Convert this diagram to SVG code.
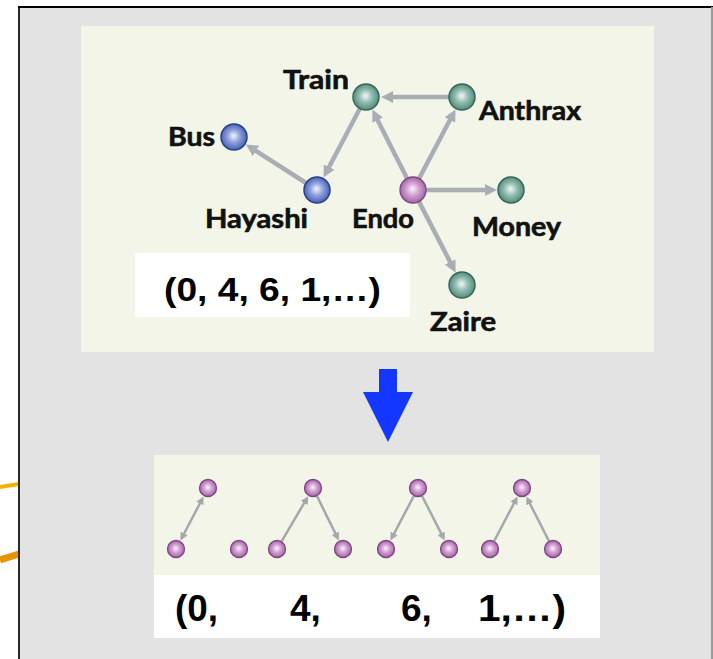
<svg xmlns="http://www.w3.org/2000/svg" width="713" height="659" viewBox="0 0 713 659">
  <style>
    .lbl { font-family: Lato, "Noto Sans", "Liberation Sans", sans-serif; font-weight: 700; font-size: 26px; fill: #111; stroke: #111; stroke-width: 0.6; }
    .seq { font-family: "Liberation Sans", Arial, sans-serif; font-weight: 700; fill: #000; }
    .edge { stroke: #a9aeb4; stroke-width: 4.5; fill: none; marker-end: url(#head); }
    .edge-s { stroke: #a4a8ad; stroke-width: 2.5; fill: none; marker-end: url(#headS); }
    .teal { fill: url(#gTeal); stroke: #35685a; stroke-width: 1.5; }
    .blue { fill: url(#gBlue); stroke: #283f8c; stroke-width: 1.5; }
    .purp { fill: url(#gPurp); stroke: #7e4581; stroke-width: 1.3; }
  </style>
  <defs>
    <radialGradient id="gTeal" cx="50%" cy="50%" r="55%" fx="48%" fy="45%">
      <stop offset="0" stop-color="#f4f8f6"/>
      <stop offset="0.45" stop-color="#92bdb0"/>
      <stop offset="1" stop-color="#4b8273"/>
    </radialGradient>
    <radialGradient id="gBlue" cx="50%" cy="50%" r="55%" fx="48%" fy="45%">
      <stop offset="0" stop-color="#f2f4fc"/>
      <stop offset="0.45" stop-color="#8d9fdc"/>
      <stop offset="1" stop-color="#3d58ab"/>
    </radialGradient>
    <radialGradient id="gPurp" cx="50%" cy="50%" r="55%" fx="48%" fy="45%">
      <stop offset="0" stop-color="#fcf2fc"/>
      <stop offset="0.45" stop-color="#d29fd3"/>
      <stop offset="1" stop-color="#9a5c9c"/>
    </radialGradient>
    <marker id="head" viewBox="0 0 12 12" markerWidth="12" markerHeight="12" refX="6" refY="6" orient="auto-start-reverse" markerUnits="userSpaceOnUse">
      <path d="M0,0 L12,6 L0,12 z" fill="#a9aeb4"/>
    </marker>
    <marker id="headS" viewBox="0 0 8 8" markerWidth="8" markerHeight="8" refX="4" refY="4" orient="auto-start-reverse" markerUnits="userSpaceOnUse">
      <path d="M0,0 L8,4 L0,8 z" fill="#a4a8ad"/>
    </marker>
  </defs>

  <!-- background outside the frame -->
  <rect x="0" y="0" width="713" height="659" fill="#ffffff"/>
  <line x1="0" y1="487" x2="19" y2="484" stroke="#f2b200" stroke-width="4"/>
  <line x1="0" y1="560" x2="19" y2="554" stroke="#e89300" stroke-width="7"/>

  <!-- slide frame -->
  <rect x="19" y="7" width="694" height="660" fill="#e3e3e3"/>
  <line x1="19" y1="6" x2="19" y2="659" stroke="#2a2a2a" stroke-width="2"/>
  <line x1="18" y1="7" x2="713" y2="7" stroke="#000" stroke-width="2"/>
  <line x1="712" y1="7" x2="712" y2="659" stroke="#9a9a9a" stroke-width="2"/>

  <!-- upper panel: the network -->
  <rect x="81" y="26" width="573" height="326" fill="#f2f5e8"/>
  <rect x="135" y="253" width="275" height="64" fill="#ffffff"/>
  <text class="seq" x="164" y="301" font-size="33" textLength="217" lengthAdjust="spacingAndGlyphs">(0, 4, 6, 1,…)</text>

  <g id="connectors">
    <line class="edge" x1="449" y1="97" x2="387" y2="97"/>
    <line class="edge" x1="359.9" y1="108.5" x2="326.3" y2="172.3"/>
    <line class="edge" x1="306" y1="183" x2="250.9" y2="147.7"/>
    <line class="edge" x1="407.1" y1="178.4" x2="375" y2="114.9"/>
    <line class="edge" x1="419.1" y1="178.5" x2="452.7" y2="114.7"/>
    <line class="edge" x1="426" y1="190" x2="491" y2="190"/>
    <line class="edge" x1="419" y1="201.6" x2="452.9" y2="267.3"/>
  </g>

  <g id="train"><circle class="teal" cx="366" cy="97" r="13"/><text class="lbl" x="283" y="89" textLength="66" lengthAdjust="spacingAndGlyphs">Train</text></g>
  <g id="anthrax"><circle class="teal" cx="462" cy="97" r="13"/><text class="lbl" x="479" y="120" textLength="102" lengthAdjust="spacingAndGlyphs">Anthrax</text></g>
  <g id="bus"><circle class="blue" cx="234" cy="137" r="13"/><text class="lbl" x="168" y="146" textLength="47" lengthAdjust="spacingAndGlyphs">Bus</text></g>
  <g id="hayashi"><circle class="blue" cx="317" cy="190" r="13"/><text class="lbl" x="205" y="228" textLength="103" lengthAdjust="spacingAndGlyphs">Hayashi</text></g>
  <g id="endo"><circle class="purp" cx="413" cy="190" r="13"/><text class="lbl" x="352" y="228" textLength="62" lengthAdjust="spacingAndGlyphs">Endo</text></g>
  <g id="money"><circle class="teal" cx="511" cy="190" r="13"/><text class="lbl" x="472" y="236" textLength="89" lengthAdjust="spacingAndGlyphs">Money</text></g>
  <g id="zaire"><circle class="teal" cx="462" cy="285" r="13"/><text class="lbl" x="430" y="331" textLength="66" lengthAdjust="spacingAndGlyphs">Zaire</text></g>

  <!-- down arrow -->
  <polygon points="379,369 397,369 397,392 413,392 388,442 363,392 379,392" fill="#1437ff"/>

  <!-- lower panel: motif decomposition -->
  <rect x="154" y="455" width="446" height="120" fill="#f2f5e8"/>
  <rect x="154" y="575" width="446" height="63" fill="#ffffff"/>

  <g id="motif-connectors">
    <line class="edge-s" style="marker-start:url(#headS)" x1="201.7" y1="500" x2="182.3" y2="537"/>
    <line class="edge-s" x1="281.6" y1="541.3" x2="306.2" y2="499.6"/>
    <line class="edge-s" x1="317" y1="496.1" x2="337.1" y2="536.9"/>
    <line class="edge-s" x1="413.8" y1="496" x2="392.3" y2="537"/>
    <line class="edge-s" x1="422.1" y1="496" x2="442.9" y2="536.9"/>
    <line class="edge-s" x1="494.2" y1="541" x2="515.7" y2="500"/>
    <line class="edge-s" x1="548.9" y1="541" x2="528.1" y2="500"/>
  </g>

  <g id="motif-0">
    <circle class="purp" cx="208" cy="488" r="8.5"/>
    <circle class="purp" cx="176" cy="549" r="8.5"/>
    <circle class="purp" cx="239" cy="549" r="8.5"/>
  </g>
  <g id="motif-4">
    <circle class="purp" cx="313" cy="488" r="8.5"/>
    <circle class="purp" cx="277" cy="549" r="8.5"/>
    <circle class="purp" cx="343" cy="549" r="8.5"/>
  </g>
  <g id="motif-6">
    <circle class="purp" cx="418" cy="488" r="8.5"/>
    <circle class="purp" cx="386" cy="549" r="8.5"/>
    <circle class="purp" cx="449" cy="549" r="8.5"/>
  </g>
  <g id="motif-1">
    <circle class="purp" cx="522" cy="488" r="8.5"/>
    <circle class="purp" cx="490" cy="549" r="8.5"/>
    <circle class="purp" cx="553" cy="549" r="8.5"/>
  </g>

  <g id="counts" class="seq" font-size="37">
    <text x="175" y="621" textLength="43" lengthAdjust="spacingAndGlyphs">(0,</text>
    <text x="290" y="621">4,</text>
    <text x="401" y="621">6,</text>
    <text x="478" y="621" textLength="88" lengthAdjust="spacingAndGlyphs">1,…)</text>
  </g>
</svg>
